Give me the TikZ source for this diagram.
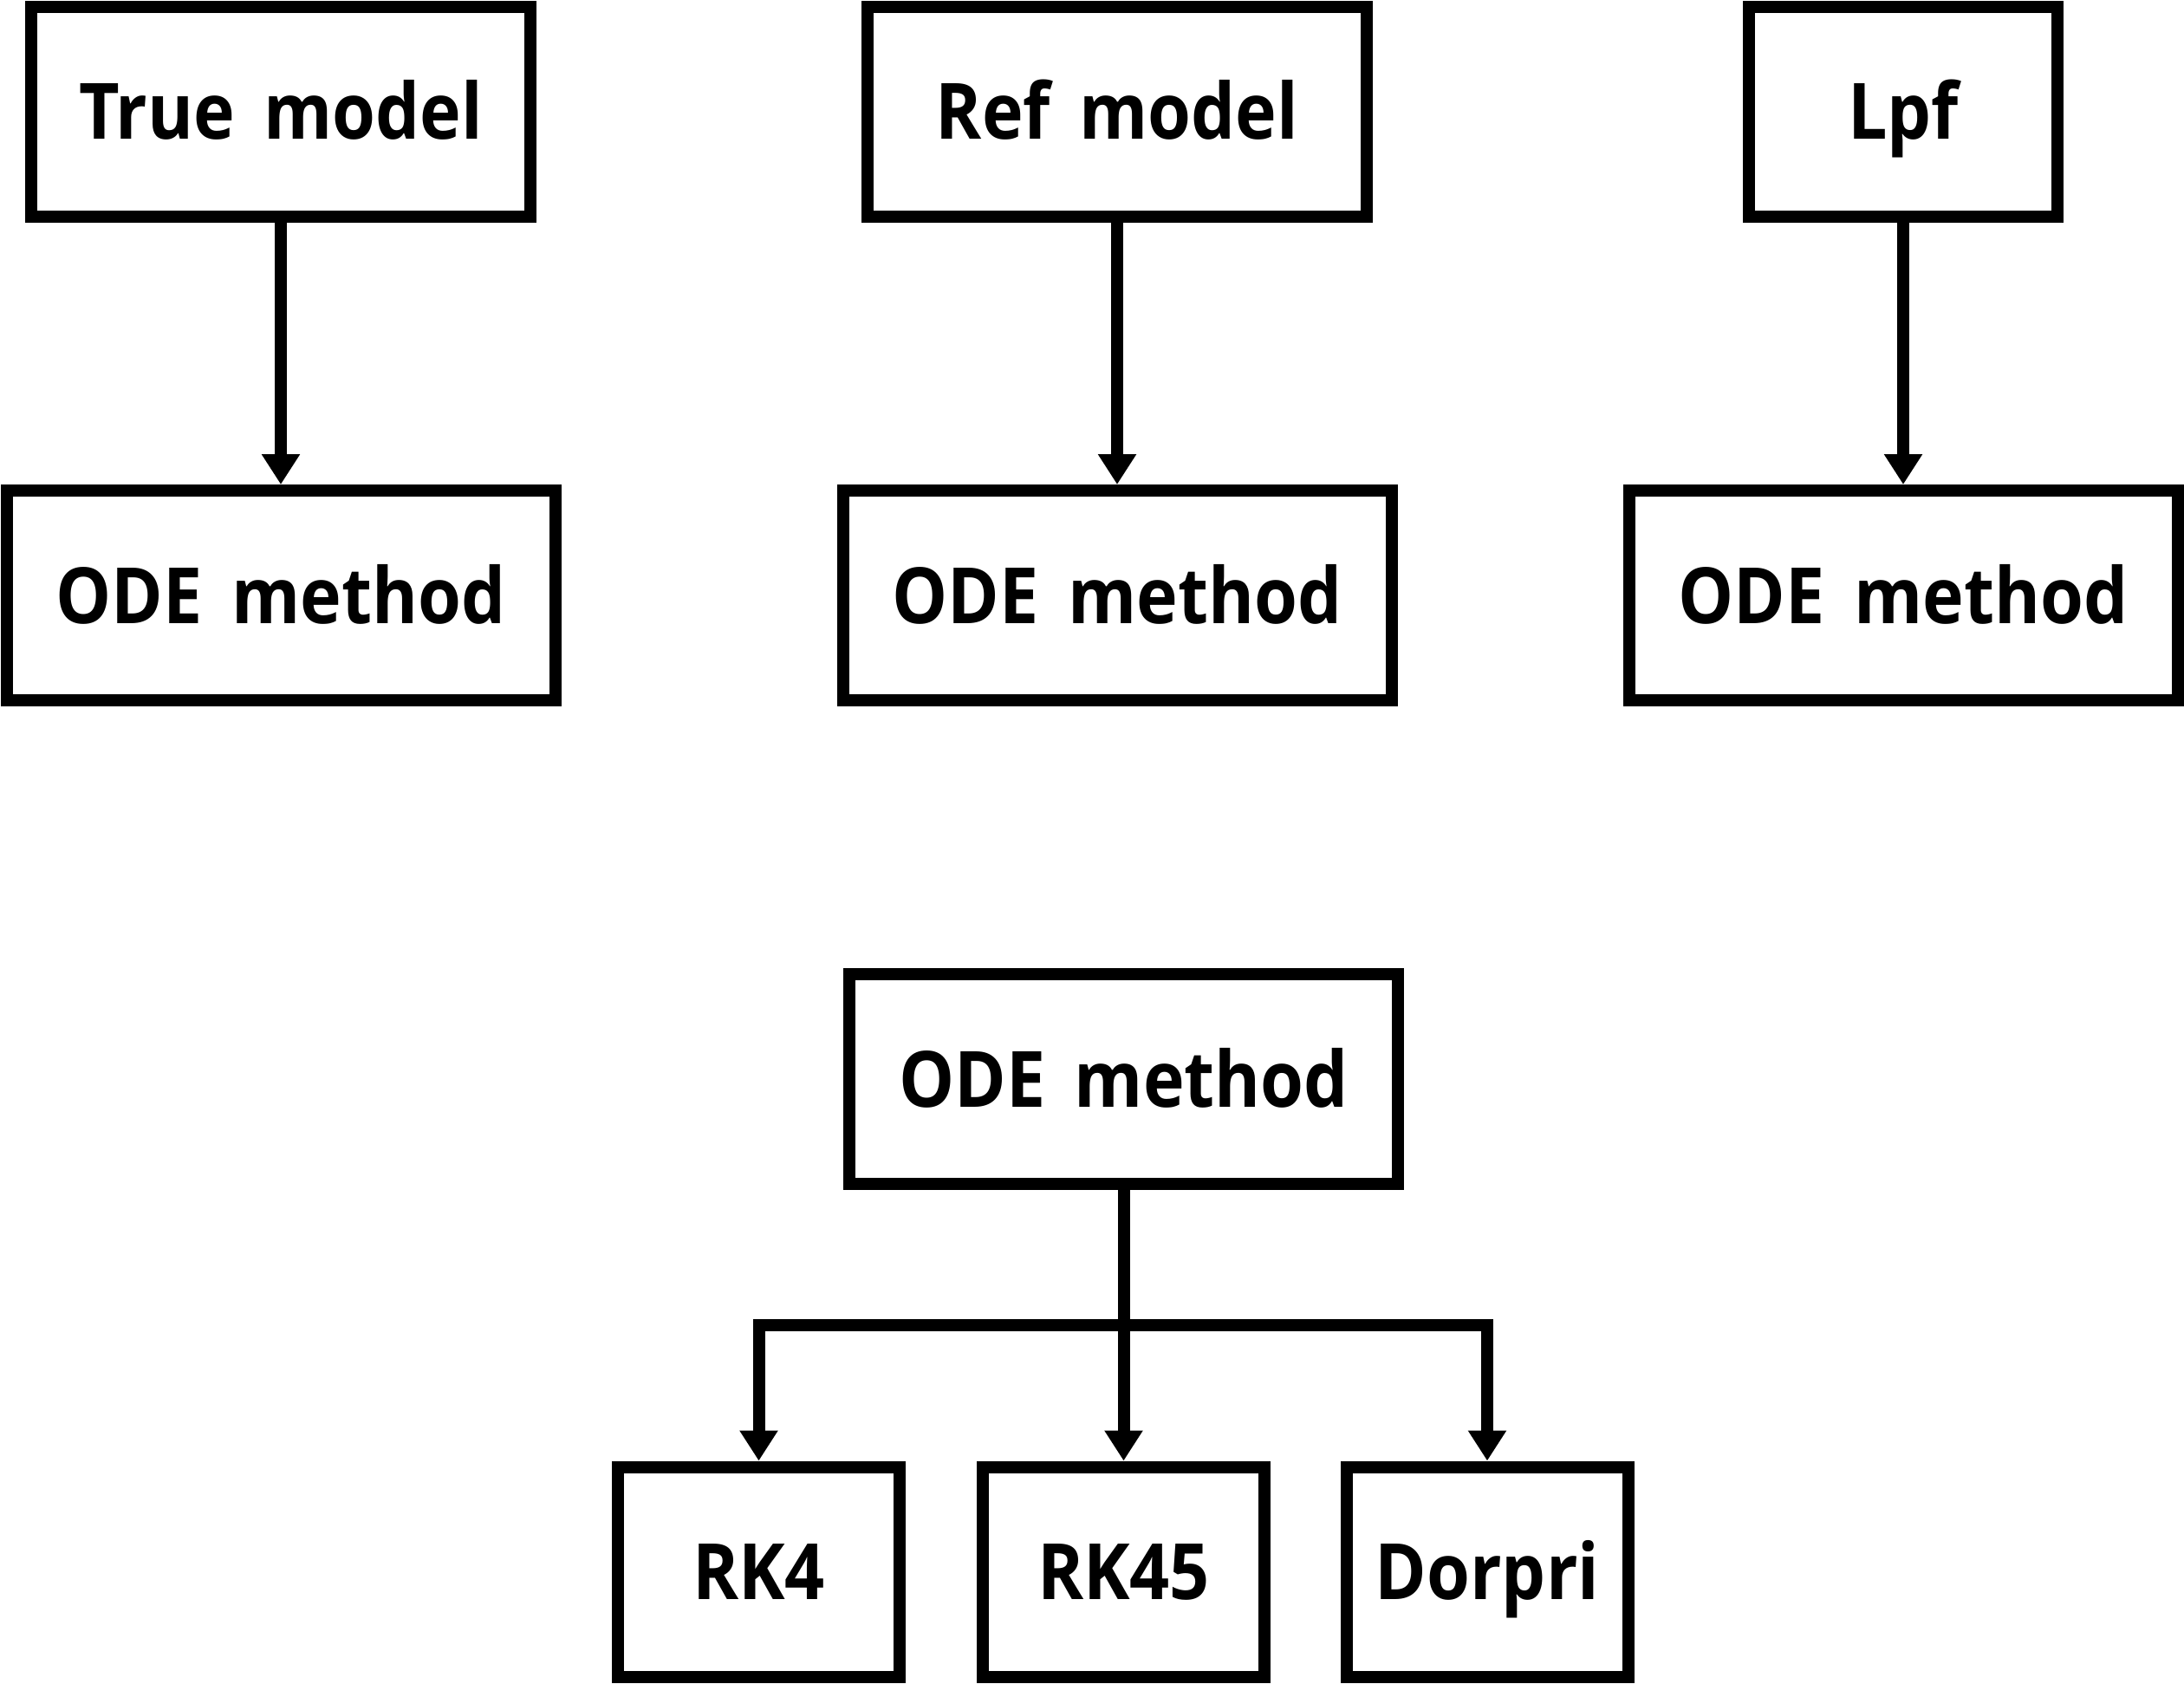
\documentclass[tikz,border=0pt]{standalone}
\usepackage{fontspec}
\setmainfont{Open Sans}[BoldFont={* Bold},FakeStretch=0.9,WordSpace=1.6]
\usetikzlibrary{arrows.meta}

\begin{document}
\begin{tikzpicture}[line cap=butt,line join=miter,x=1.0cm,y=1.0cm,
	blok/.style={draw,line width=0.14cm,minimum height=2.42cm,inner sep=0pt,
		font=\fontsize{25.5}{30}\selectfont\bfseries,text height=18.2pt,text depth=0pt},
	flow/.style={-{Triangle[length=0.35cm,width=0.42cm]},line width=0.14cm}]
	\useasboundingbox (0,0) rectangle (25.2,-19.42);
	% top row
	\node[blok,minimum width=5.76cm] (true) at (3.24,-1.285) {True model};
	\node[blok,minimum width=5.76cm] (ref) at (12.89,-1.285) {Ref model};
	\node[blok,minimum width=3.56cm] (lpf) at (21.96,-1.285) {Lpf};
	% ODE row
	\node[blok,minimum width=6.33cm] (ode1) at (3.24,-6.87) {ODE method};
	\node[blok,minimum width=6.33cm] (ode2) at (12.89,-6.87) {ODE method};
	\node[blok,minimum width=6.33cm] (ode3) at (21.96,-6.87) {ODE method};
	\draw [flow] (true) -- (ode1);
	\draw [flow] (ref) -- (ode2);
	\draw [flow] (lpf) -- (ode3);

	% methods
	\node[blok,minimum width=6.33cm] (ode4) at (12.965,-12.45) {ODE method};
	\node[blok,minimum width=3.25cm] (rk4) at (8.755,-18.135) {RK4};
	\node[blok,minimum width=3.25cm] (rk45) at (12.965,-18.135) {RK45};
	\node[blok,minimum width=3.25cm] (dorpri) at (17.16,-18.135) {Dorpri};
	\coordinate (split) at (12.965,-15.29);
	\draw [flow] (ode4) -- (rk45);
	\draw [flow] (split) -| (rk4);
	\draw [flow] (split) -| (dorpri);
\end{tikzpicture}
\end{document}
